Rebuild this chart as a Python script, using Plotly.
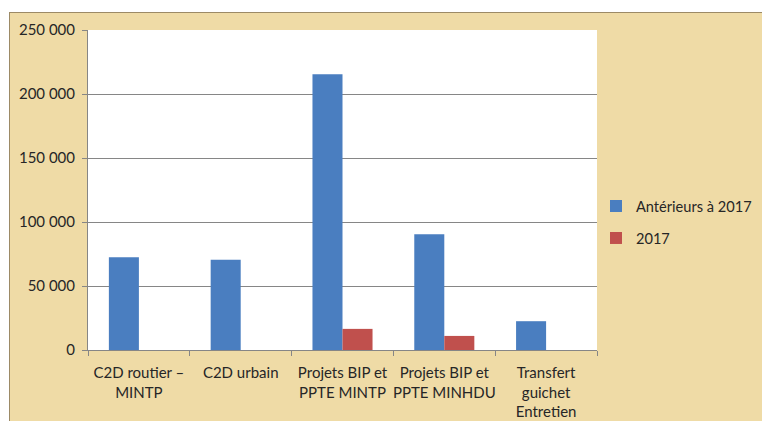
import plotly.graph_objects as go

# Categories and amounts
categories = [
    "C2D routier –<br>MINTP",
    "C2D urbain",
    "Projets BIP et<br>PPTE MINTP",
    "Projets BIP et<br>PPTE MINHDU",
    "Transfert<br>guichet<br>Entretien",
]
anterieurs = [72500, 70500, 215500, 90500, 22500]
annee_2017 = [0, 0, 16500, 11000, 0]

y_ticks = [0, 50000, 100000, 150000, 200000, 250000]
y_tick_labels = ["0", "50 000", "100 000", "150 000", "200 000", "250 000"]

W, H = 762, 421
M_L, M_R, M_T, M_B = 88, 165, 30, 71
PLOT_W = W - M_L - M_R
PLOT_H = H - M_T - M_B

PARCHMENT = "#EFDBA6"
FONT = dict(family="Lato, Liberation Sans, sans-serif", size=15, color="#262626")

fig = go.Figure()
fig.add_trace(go.Bar(x=categories, y=anterieurs, name="Antérieurs à 2017",
                     marker=dict(color="#4A7EC0", line_width=0), legendgroup="a"))
fig.add_trace(go.Bar(x=categories, y=annee_2017, name="2017",
                     marker=dict(color="#C0504D", line_width=0), legendgroup="b"))


def px_x(p):
    return (p - M_L) / PLOT_W


def px_y(p):
    return (H - M_B - p) / PLOT_H


# White margin strips above and left of the parchment panel, with its border
shapes = [
    dict(type="rect", xref="paper", yref="paper", layer="above",
         x0=px_x(-2), x1=px_x(W + 2), y0=px_y(12), y1=px_y(-2),
         fillcolor="white", line_width=0),
    dict(type="rect", xref="paper", yref="paper", layer="above",
         x0=px_x(-2), x1=px_x(9), y0=px_y(H + 2), y1=px_y(-2),
         fillcolor="white", line_width=0),
    dict(type="line", xref="paper", yref="paper", layer="above",
         x0=px_x(9), x1=px_x(W + 2), y0=px_y(12.5), y1=px_y(12.5),
         line=dict(color="#9C8A66", width=1)),
    dict(type="line", xref="paper", yref="paper", layer="above",
         x0=px_x(9.5), x1=px_x(9.5), y0=px_y(12), y1=px_y(H + 2),
         line=dict(color="#9C8A66", width=1)),
]

fig.update_layout(
    width=W, height=H,
    margin=dict(l=M_L, r=M_R, t=M_T, b=M_B, autoexpand=False),
    paper_bgcolor=PARCHMENT,
    plot_bgcolor="white",
    font=FONT,
    barmode="group",
    bargap=0.41,
    bargroupgap=0,
    shapes=shapes,
    legend=dict(x=0.998, xanchor="left", y=0.4, yanchor="middle",
                bgcolor="rgba(0,0,0,0)", font=dict(FONT, size=14.6),
                traceorder="grouped", tracegroupgap=10),
    xaxis=dict(showline=True, linecolor="#868686", linewidth=1,
               ticks="outside", ticklen=5, tickcolor="#868686",
               tickson="boundaries", tickangle=0, showgrid=False,
               ticklabelstandoff=9, automargin=False),
    yaxis=dict(range=[0, 250000], tickvals=y_ticks, ticktext=y_tick_labels,
               showline=True, linecolor="#868686", linewidth=1,
               ticks="outside", ticklen=5, tickcolor="#868686",
               showgrid=True, gridcolor="#868686", gridwidth=1,
               zeroline=False, ticklabelstandoff=4, automargin=False),
)

fig.write_html("out.html")
